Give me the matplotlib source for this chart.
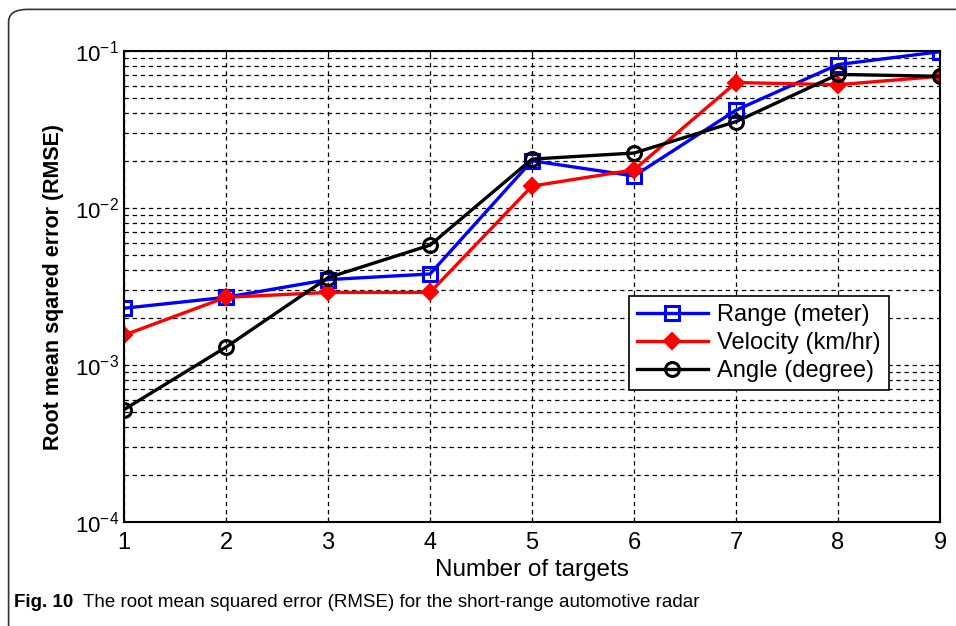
import matplotlib.pyplot as plt
from matplotlib.patches import FancyBboxPatch

targets = [1, 2, 3, 4, 5, 6, 7, 8, 9]
rmse_range = [2.3e-3, 2.7e-3, 3.5e-3, 3.8e-3, 0.0200, 0.0160, 0.042, 0.082, 0.099]
rmse_velocity = [1.55e-3, 2.7e-3, 2.9e-3, 2.9e-3, 0.0138, 0.0175, 0.0630, 0.0610, 0.069]
rmse_angle = [5.2e-4, 1.3e-3, 3.6e-3, 5.8e-3, 0.0205, 0.0224, 0.0355, 0.071, 0.069]

plt.rcParams['font.family'] = ['Liberation Sans', 'DejaVu Sans']

fig = plt.figure(figsize=(9.56, 6.26), dpi=100)
ax = fig.add_axes([0.1297, 0.1661, 0.8536, 0.7524])

ax.plot(targets, rmse_range, color='#0000ff', lw=2.4, marker='s', ms=10,
        mfc='none', mew=2.2, label='Range (meter)')
ax.plot(targets, rmse_velocity, color='#ff0000', lw=2.4, marker='D', ms=8,
        mfc='#ff0000', mew=1.5, label='Velocity (km/hr)')
ax.plot(targets, rmse_angle, color='black', lw=2.4, marker='o', ms=10,
        mfc='none', mew=2.2, label='Angle (degree)')

ax.set_yscale('log')
ax.set_ylim(1e-4, 1e-1)
ax.set_xlim(1, 9)
ax.set_xticks(targets)
ax.grid(True, which='both', ls=(0, (3.5, 3)), color='black', lw=0.9)
ax.tick_params(which='both', direction='in', top=True, right=True, labelsize=16)
ax.tick_params(axis='x', labelsize=17, pad=7)
for s in ax.spines.values():
    s.set_linewidth(1.5)

ax.set_xlabel('Number of targets', fontsize=17.5, labelpad=4)
ax.set_ylabel('Root mean sqared error (RMSE)', fontsize=15.5, fontweight='bold', labelpad=8)

leg = ax.legend(loc='upper left', bbox_to_anchor=(0.604, 0.505), fontsize=17,
                handlelength=3.0, frameon=True, fancybox=False, framealpha=1,
                edgecolor='black', borderpad=0.35, labelspacing=0.25, handletextpad=0.4)
leg.get_frame().set_linewidth(1.2)

# rounded frame around the figure and its caption
frame = FancyBboxPatch((0.009, -0.05), 1.05, 1.035, boxstyle='round,pad=0,rounding_size=0.02',
                       transform=fig.transFigure, fill=False, lw=1.2, ec='#333333')
fig.patches.append(frame)

fig.text(0.015, 0.03, 'Fig. 10', fontsize=13.5, fontweight='bold')
fig.text(0.087, 0.03, 'The root mean squared error (RMSE) for the short-range automotive radar',
         fontsize=13.5)

fig.savefig('out.png', dpi=100)
